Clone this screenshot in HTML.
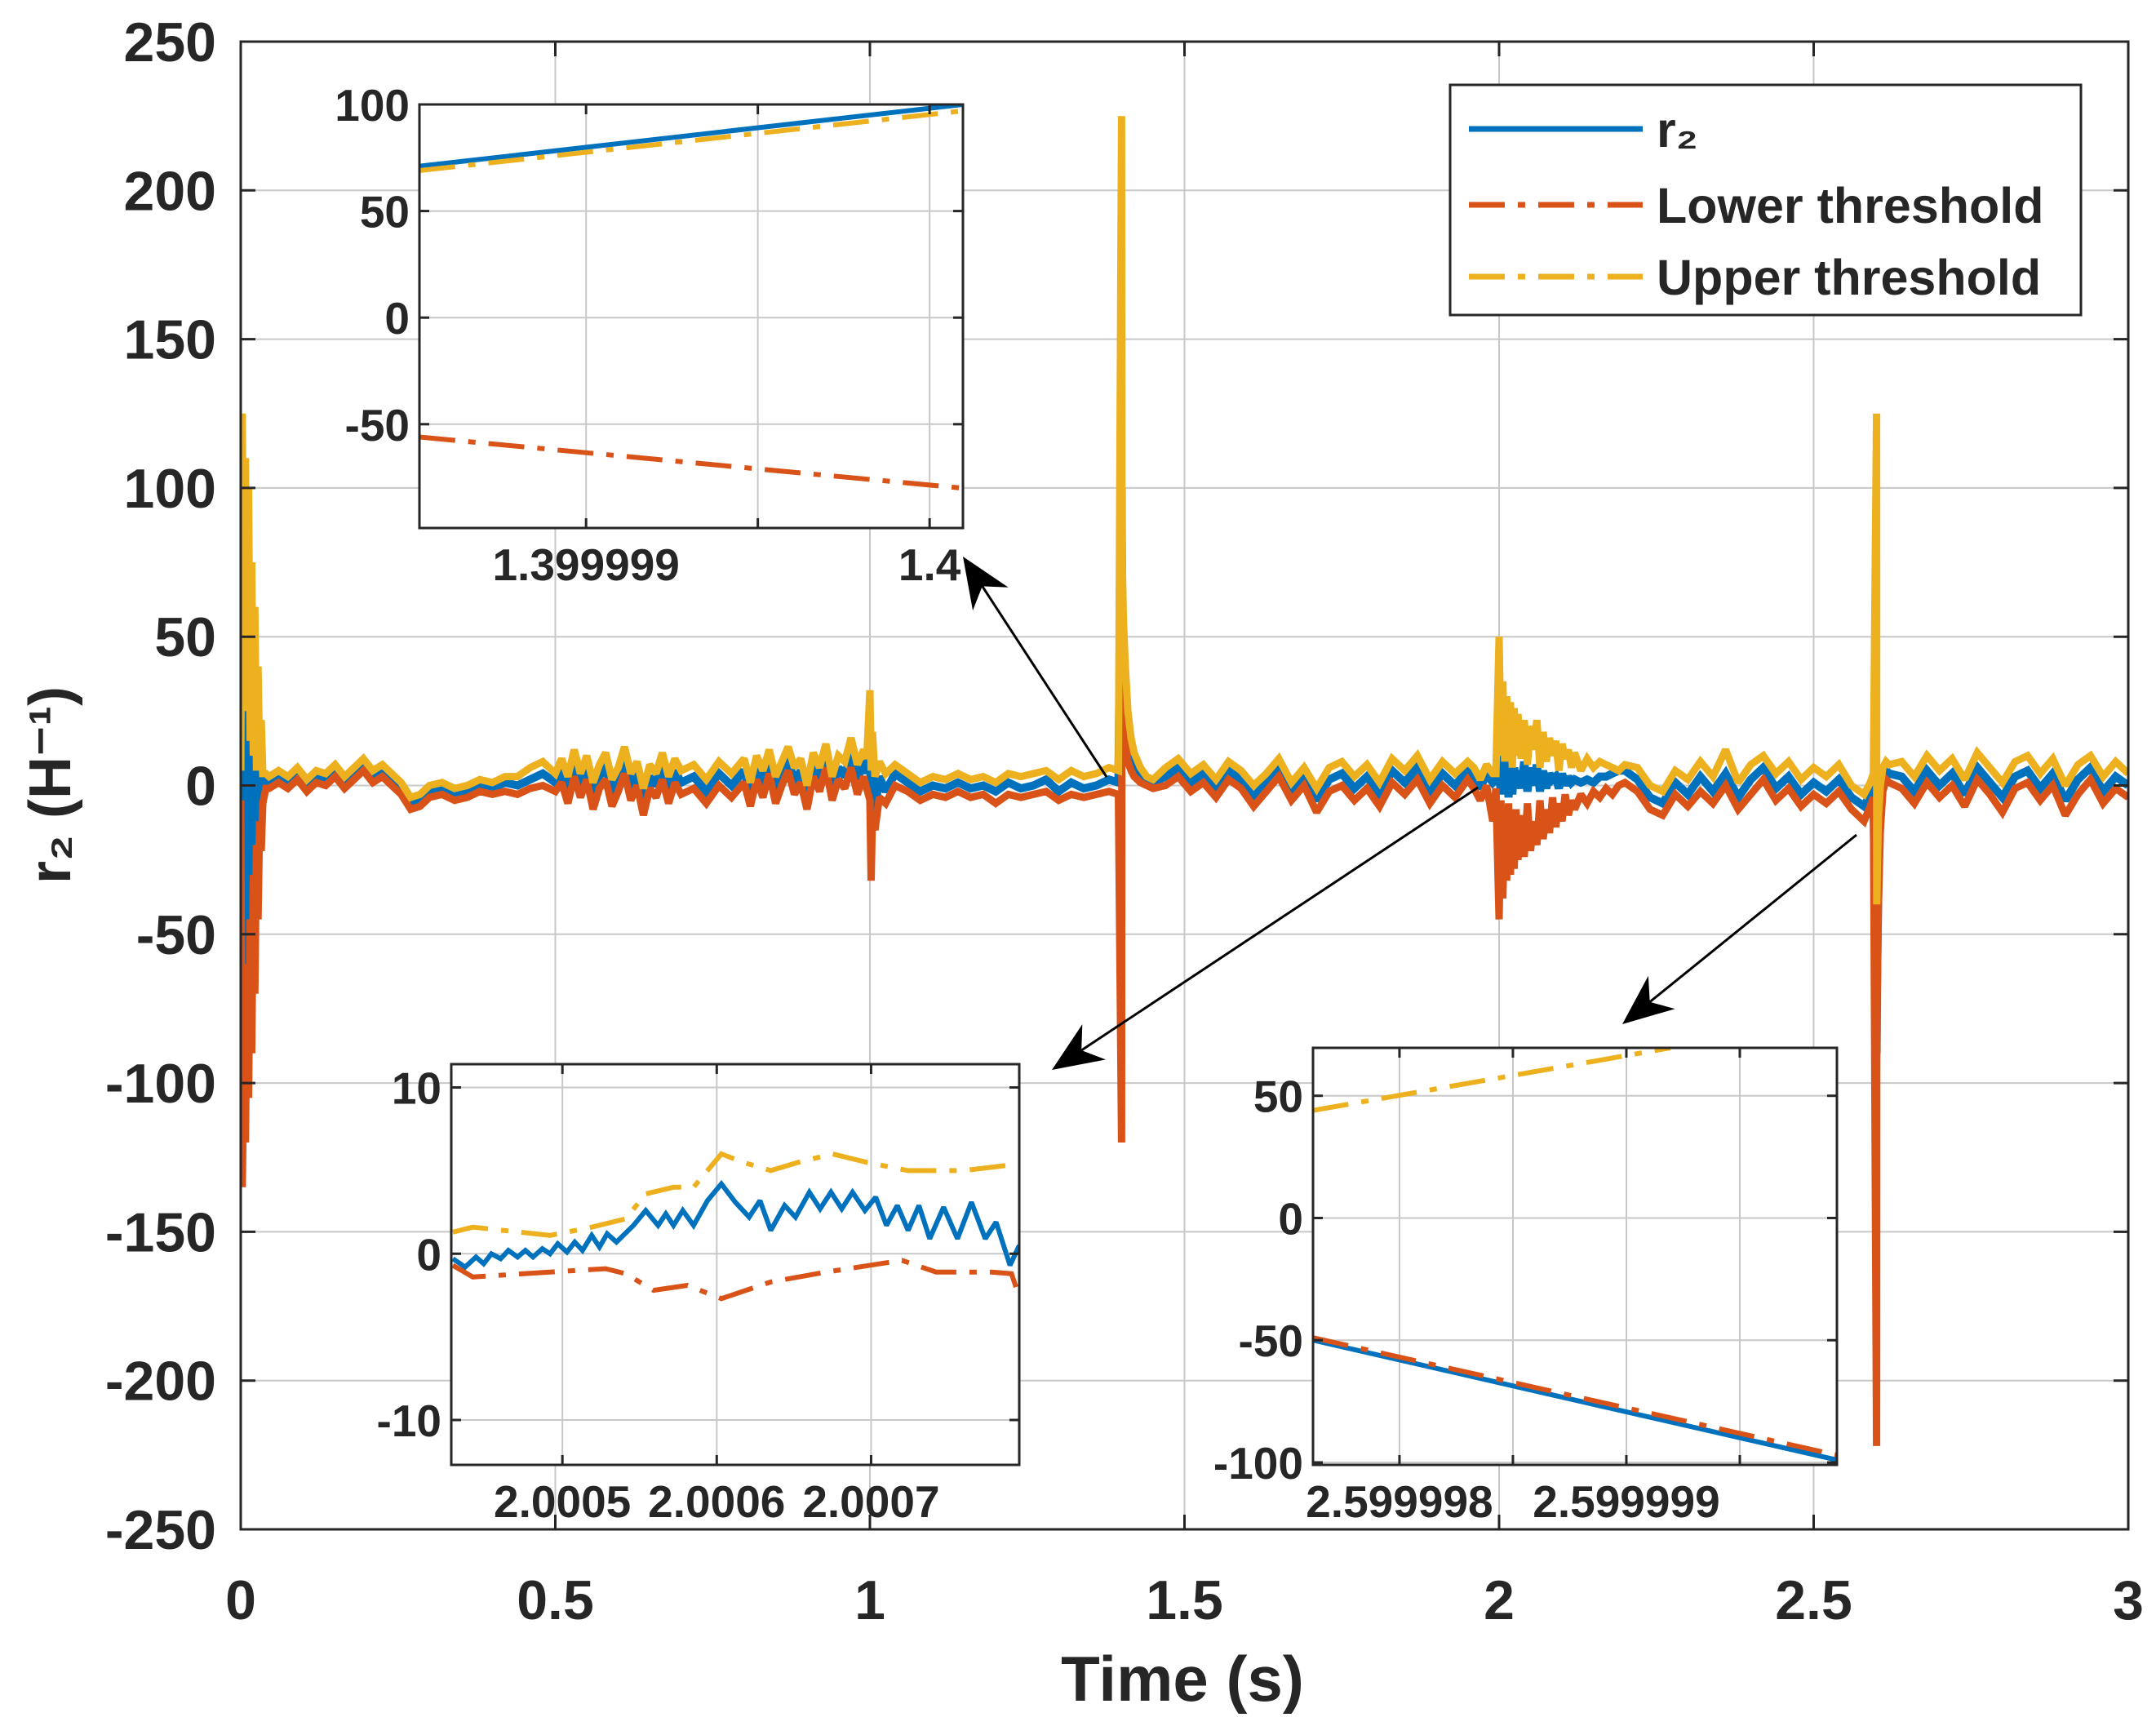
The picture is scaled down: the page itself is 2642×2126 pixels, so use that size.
<!DOCTYPE html>
<html><head><meta charset="utf-8"><style>
html,body{margin:0;padding:0;background:#fff}
svg{display:block}
text{font-family:"Liberation Sans",Arial,sans-serif;font-weight:bold;fill:#262626}
</style></head><body>
<svg id="chart" width="2642" height="2126" viewBox="0 0 2642 2126" xmlns="http://www.w3.org/2000/svg"></svg>
<script>
// ---------- main series data ----------
const times = [
0,0.0025,0.005,0.0075,0.01,0.0125,0.015,0.0175,0.02,0.0225,0.025,0.0275,0.03,0.0325,0.035,0.04,0.045,
0.06,0.075,0.09,0.105,0.12,0.135,0.15,0.165,0.18,0.195,0.21,0.225,0.24,0.255,0.27,0.285,0.3,
0.32,0.34,0.36,0.38,0.4,0.42,0.44,0.46,0.48,0.5,
0.51,0.52,0.53,0.54,0.55,0.56,0.57,0.58,0.59,0.6,0.61,0.62,0.63,0.64,0.65,0.66,0.67,0.68,0.69,0.7,
0.72,0.74,0.76,0.78,0.8,
0.81,0.82,0.83,0.84,0.85,0.86,0.87,0.88,0.89,0.9,0.91,0.92,0.93,0.94,0.95,0.96,0.97,0.98,0.99,0.995,
1.0,1.002,1.004,1.008,1.015,1.025,1.04,1.06,1.08,1.1,1.12,1.14,1.16,1.18,1.2,1.22,1.24,1.26,1.28,1.3,1.32,1.34,1.36,1.38,1.395,
1.4,1.4005,1.401,1.403,1.406,1.41,1.415,1.42,1.43,1.44,1.45,
1.47,1.49,1.51,1.53,1.55,1.57,1.59,1.61,1.63,1.65,1.67,1.69,1.71,1.73,1.75,1.77,1.79,1.81,1.83,1.85,1.87,1.89,1.91,1.93,1.95,1.96,1.97,1.98,1.99,1.995,
2.0,2.003,2.006,2.009,2.012,2.015,2.018,2.021,2.024,2.027,2.03,
2.035,2.04,2.045,2.05,2.055,2.06,2.065,2.07,2.075,2.08,2.085,2.09,2.095,2.1,2.105,2.11,2.115,2.12,
2.13,2.14,2.15,2.16,2.17,2.18,2.19,2.2,
2.22,2.24,2.26,2.28,2.3,2.32,2.34,2.36,2.38,2.4,2.42,2.44,2.46,2.48,2.5,2.52,2.54,2.56,2.58,2.59,2.595,
2.6,2.6003,2.601,2.603,2.606,2.61,2.615,2.62,
2.64,2.66,2.68,2.7,2.72,2.74,2.76,2.78,2.8,2.82,2.84,2.86,2.88,2.9,2.92,2.94,2.96,2.98,3.0];
const r2Values = [
0,95,-70,60,-45,50,-35,40,-25,30,-15,15,-8,6,-3,2,1,
3,1,4,0,3,2,5,1,4,7,3,5,2,-1,-6,-5,-2,
-1,-3,-2,0,-1,1,0,2,4,1,
5,-2,8,0,6,-4,3,7,-3,2,9,-1,4,-6,3,0,7,-2,5,1,
3,-2,4,0,5,
-3,6,0,8,-2,4,9,1,5,-4,7,2,10,-1,6,3,11,2,8,4,
20,-15,10,-8,3,-2,4,1,-2,0,-1,1,-1,0,-2,1,-1,0,2,-2,1,-1,0,2,1,
100,75,60,45,30,20,12,8,4,2,1,
3,6,1,4,-1,5,2,-4,1,6,-2,3,-5,2,4,-1,3,-3,5,1,6,-2,4,0,5,3,-1,4,1,2,
5,-3,12,-2,8,-4,10,-3,6,1,5,
-1,8,-2,6,0,7,-2,5,-1,4,2,3,-1,4,0,3,1,2,
1,2,1,3,3,4,5,5,
2,-4,-6,1,-3,3,-2,4,-4,2,6,-1,3,-3,1,-2,2,-4,-7,-3,0,
-90,-80,-60,-30,-10,2,5,4,
3,-2,5,0,4,-3,6,1,-4,3,5,-1,4,-5,2,6,-2,3,0];
const lowerValues = [
-5,-135,-90,-120,-60,-105,-45,-90,-30,-70,-20,-45,-12,-22,-6,-1,-1,
1,-1,2,-2,1,0,3,-1,2,5,1,3,0,-3,-8,-7,-4,
-3,-5,-4,-2,-3,-2,-3,-1,0,-2,
1,-6,3,-4,2,-8,-1,2,-7,-2,4,-5,0,-10,-1,-4,2,-6,1,-3,
-1,-6,0,-4,1,
-7,2,-4,4,-6,0,5,-3,1,-8,3,-2,6,-5,2,-1,6,-3,3,-1,
-5,-32,-10,-15,-4,-6,0,-2,-5,-3,-4,-2,-4,-3,-6,-3,-4,-3,-2,-5,-3,-4,-3,-2,-3,
-120,40,35,25,15,8,5,3,1,0,-1,
0,3,-2,1,-4,2,-1,-7,-2,3,-5,0,-9,-2,0,-5,-1,-7,1,-3,2,-6,0,-4,2,-1,-5,0,-12,-1,
-45,-5,-38,-8,-32,-6,-30,-10,-28,-8,-25,
-10,-24,-6,-22,-12,-20,-5,-18,-8,-16,-4,-14,-6,-12,-3,-10,-5,-8,
-3,-6,-2,-4,-1,-3,0,1,
-2,-8,-10,-3,-7,-2,-6,0,-8,-3,2,-5,-1,-7,-3,-6,-2,-8,-12,-7,-4,
-222,-95,-70,-40,-15,-2,2,1,
-1,-6,1,-4,0,-7,2,-3,-9,-1,1,-5,0,-10,-3,2,-6,-1,-4];
const upperValues = [
5,125,25,110,30,100,15,75,10,60,5,40,8,22,4,4,3,
5,3,6,2,5,4,7,3,6,9,5,7,4,1,-4,-3,0,
1,-1,0,2,1,3,3,6,8,4,
9,3,12,4,10,1,7,11,2,6,13,4,8,-1,7,4,11,3,9,5,
7,2,8,4,9,
1,10,5,12,3,8,13,6,9,0,11,6,14,3,10,8,16,7,12,9,
32,5,18,3,8,4,7,4,1,3,2,4,2,3,1,4,3,4,5,2,5,3,4,6,5,
225,95,75,55,40,25,16,11,6,3,2,
6,9,4,7,2,8,5,0,4,9,1,6,-1,6,8,3,7,1,9,5,10,2,8,4,8,6,2,7,4,4,
50,10,35,8,30,12,28,6,26,10,24,
9,22,7,20,12,22,6,18,8,16,10,15,5,14,9,12,6,11,
5,9,6,8,7,6,5,7,
6,0,-2,5,2,8,3,12,1,7,10,4,8,2,6,3,7,0,-3,1,4,
125,-40,-30,-10,0,6,8,7,
8,3,10,5,9,2,11,6,1,8,10,4,9,0,7,10,3,8,4];
const xTicks = [0,0.5,1,1.5,2,2.5,3];
const xTickLabels = ["0","0.5","1","1.5","2","2.5","3"];
const yTicks = [250,200,150,100,50,0,-50,-100,-150,-200,-250];
const yTickLabels = ["250","200","150","100","50","0","-50","-100","-150","-200","-250"];

// inset 1 (time offset in 1e-7 s from 1.399999)
const in1Time = [-4.85, 10.97];
const in1R2 = [71, 100];
const in1Lower = [-56, -80];
const in1Upper = [69, 97];
const in1XTicks = [0, 10];
const in1XTickLabels = ["1.399999", "1.4"];
const in1YTicks = [100, 50, 0, -50];
const in1YTickLabels = ["100", "50", "0", "-50"];

// inset 2 (time offset in 1e-5 s from 2.0004)
const in2R2Time = [2.9,3.7,4.4,4.9,5.4,6.0,6.5,7.1,7.6,8.1,8.7,9.2,9.7,10.3,10.8,11.3,11.9,12.4,12.9,13.5,14.6,15.4,16.2,16.7,17.2,17.8,18.5,19.4,20.3,21.2,22.1,22.8,23.5,24.4,25.1,26.0,26.7,27.4,28.1,28.8,29.6,30.3,31.0,31.7,32.4,33.1,33.8,34.7,35.6,36.5,37.4,38.1,39.0,39.6];
const in2R2 = [-0.3,-0.8,-0.2,-0.6,0,-0.3,0.2,-0.2,0.2,-0.2,0.3,0,0.6,0.1,0.7,0.2,1.1,0.4,1.2,0.7,1.7,2.6,1.7,2.4,1.7,2.6,1.7,3.2,4.2,3.1,2.2,3.2,1.4,2.9,2.2,3.7,2.7,3.7,2.7,3.7,2.6,3.4,1.7,2.9,1.4,2.9,0.9,2.8,0.9,3.1,0.9,1.9,-0.7,0.5];
const in2UpperTime = [2.9,4.2,9.2,11.9,14.1,15.4,17.2,18.5,20.3,21.7,23.5,25.3,27.5,29.7,32.4,36,39.6];
const in2Upper = [1.3,1.6,1.1,1.6,2.1,3.6,4.0,4.0,6.0,5.5,5.0,5.5,6.0,5.5,5.0,5.0,5.4];
const in2LowerTime = [2.9,4.2,9.2,12.8,14.1,15.9,18.1,20.3,23.5,27.1,32,34.2,37.8,39.1,39.6];
const in2Lower = [-0.7,-1.4,-1.1,-0.9,-1.2,-2.2,-1.9,-2.7,-1.7,-1.1,-0.4,-1.1,-1.1,-1.2,-2.6];
const in2XTicks = [10, 20, 30];
const in2XTickLabels = ["2.0005", "2.0006", "2.0007"];
const in2YTicks = [10, 0, -10];
const in2YTickLabels = ["10", "0", "-10"];

// inset 3 (time offset in 1e-7 s from 2.599997)
const in3Time = [6.19, 29.28];
const in3UpperTime = [6.19, 21.94];
const in3Upper = [44, 69.6];
const in3R2 = [-50, -99];
const in3Lower = [-49, -97];
const in3XTicks = [10, 20];
const in3XTickLabels = ["2.599998", "2.599999"];
const in3YTicks = [50, 0, -50, -100];
const in3YTickLabels = ["50", "0", "-50", "-100"];

const BLUE = "#0072BD", ORANGE = "#D95319", YELLOW = "#EDB120";
const DASH = "44,16,9,16";
const NS = "http://www.w3.org/2000/svg";
const svg = document.getElementById("chart");
function el(tag, attrs, parent, txt) {
  const e = document.createElementNS(NS, tag);
  for (const k in attrs) e.setAttribute(k, attrs[k]);
  if (txt !== undefined) e.textContent = txt;
  (parent || svg).appendChild(e);
  return e;
}
// ---------- main axes ----------
const L = 295, R = 2608, T = 51, B = 1874;
const xs = t => L + t / 3 * (R - L);
const ys = v => T + (250 - v) / 500 * (B - T);

const grid = el("g", {stroke: "#c8c8c8", "stroke-width": 2});


xTicks.forEach(t => el("line", {x1: xs(t), x2: xs(t), y1: T, y2: B}, grid));
yTicks.forEach(v => el("line", {x1: L, x2: R, y1: ys(v), y2: ys(v)}, grid));

const defs = el("defs", {});
const cp = el("clipPath", {id: "mainclip"}, defs);
el("rect", {x: L, y: T, width: R - L, height: B - T}, cp);

function series(tArr, vArr, xf, yf, color, w, name, dash, parent, clip) {
  const n = Math.min(tArr.length, vArr.length);
  const pts = [];
  for (let i = 0; i < n; i++) pts.push(xf(tArr[i]).toFixed(1) + "," + yf(vArr[i]).toFixed(1));
  const a = {points: pts.join(" "), fill: "none", stroke: color, "stroke-width": w, "stroke-linejoin": "miter", "stroke-miterlimit": 2};
  if (dash) a["stroke-dasharray"] = dash;
  if (clip) a["clip-path"] = clip;
  const p = el("polyline", a, parent);
  
  
  return p;
}
series(times, r2Values, xs, ys, BLUE, 10, "r2-line", null, svg, "url(#mainclip)");
series(times, lowerValues, xs, ys, ORANGE, 9, "lower-threshold-line", null, svg, "url(#mainclip)");
series(times, upperValues, xs, ys, YELLOW, 9, "upper-threshold-line", null, svg, "url(#mainclip)");

const frame = el("rect", {x: L, y: T, width: R - L, height: B - T, fill: "none", stroke: "#262626", "stroke-width": 3});



xTicks.forEach((t, i) => {
  el("line", {x1: xs(t), x2: xs(t), y1: B, y2: B - 18, stroke: "#262626", "stroke-width": 3});
  el("line", {x1: xs(t), x2: xs(t), y1: T, y2: T + 18, stroke: "#262626", "stroke-width": 3});
  const tx = el("text", {x: xs(t), y: 1984, "font-size": 68, "text-anchor": "middle"}, svg, xTickLabels[i]);
  
  
});
yTicks.forEach((v, i) => {
  el("line", {x1: L, x2: L + 18, y1: ys(v), y2: ys(v), stroke: "#262626", "stroke-width": 3});
  el("line", {x1: R, x2: R - 18, y1: ys(v), y2: ys(v), stroke: "#262626", "stroke-width": 3});
  const ty = el("text", {x: 265, y: ys(v) + 24, "font-size": 68, "text-anchor": "end"}, svg, yTickLabels[i]);
  
  
});
const xt = el("text", {x: 1449, y: 2084, "font-size": 78, "text-anchor": "middle"}, svg, "Time (s)");


const yt = el("text", {x: 0, y: 0, "font-size": 72, "text-anchor": "middle", transform: "translate(86,962) rotate(-90)"}, svg, "r₂ (H⁻¹)");



// ---------- arrows ----------
function arrow(x1, y1, x2, y2, name) {
  const g = el("g", {});
  
  
  const ang = Math.atan2(y2 - y1, x2 - x1);
  const len = 62, wid = 26;
  const bx = x2 - len * Math.cos(ang), by = y2 - len * Math.sin(ang);
  const mx = x2 - len * 0.7 * Math.cos(ang), my = y2 - len * 0.7 * Math.sin(ang);
  el("line", {x1: x1, y1: y1, x2: mx, y2: my, stroke: "#000", "stroke-width": 3}, g);
  const px = -Math.sin(ang), py = Math.cos(ang);
  el("polygon", {points: `${x2},${y2} ${bx + px * wid},${by + py * wid} ${mx},${my} ${bx - px * wid},${by - py * wid}`, fill: "#000"}, g);
}
arrow(1356, 952, 1180, 682, "zoom-arrow-1");
arrow(1811, 965, 1289, 1311, "zoom-arrow-2");
arrow(2275, 1023, 1988, 1255, "zoom-arrow-3");

// ---------- insets ----------
function inset(cfg) {
  const g = el("g", {});
  
  
  const {l, r, t, b, x0, x1, v0, v1} = cfg;
  const xf = u => l + (u - x0) / (x1 - x0) * (r - l);
  const yf = v => t + (v1 - v) / (v1 - v0) * (b - t);
  el("rect", {x: l, y: t, width: r - l, height: b - t, fill: "#fff"}, g);
  const id = cfg.name + "-clip";
  const c = el("clipPath", {id: id}, defs);
  el("rect", {x: l, y: t, width: r - l, height: b - t}, c);
  cfg.gridX.forEach(u => el("line", {x1: xf(u), x2: xf(u), y1: t, y2: b, stroke: "#c8c8c8", "stroke-width": 2}, g));
  cfg.yTicks.forEach(v => el("line", {x1: l, x2: r, y1: yf(v), y2: yf(v), stroke: "#c8c8c8", "stroke-width": 2}, g));
  cfg.lines.forEach(s => series(s[0], s[1], xf, yf, s[2], 6, s[3], s[4], g, "url(#" + id + ")"));
  el("rect", {x: l, y: t, width: r - l, height: b - t, fill: "none", stroke: "#262626", "stroke-width": 3}, g);
  cfg.gridX.forEach(u => {
    el("line", {x1: xf(u), x2: xf(u), y1: b, y2: b - 12, stroke: "#262626", "stroke-width": 3}, g);
    el("line", {x1: xf(u), x2: xf(u), y1: t, y2: t + 12, stroke: "#262626", "stroke-width": 3}, g);
  });
  cfg.yTicks.forEach((v, i) => {
    el("line", {x1: l, x2: l + 12, y1: yf(v), y2: yf(v), stroke: "#262626", "stroke-width": 3}, g);
    el("line", {x1: r, x2: r - 12, y1: yf(v), y2: yf(v), stroke: "#262626", "stroke-width": 3}, g);
    const tl = el("text", {x: l - 12, y: yf(v) + 20, "font-size": 55, "text-anchor": "end"}, g, cfg.yLabels[i]);
    
    
  });
  cfg.xTicks.forEach((u, i) => {
    const tl = el("text", {x: xf(u), y: b + 64, "font-size": 55, "text-anchor": "middle"}, g, cfg.xLabels[i]);
    
    
  });
}
inset({name: "inset-1", l: 514, r: 1180, t: 128, b: 647, x0: -4.85, x1: 10.97, v0: -98.7, v1: 100,
  gridX: [0, 5, 10], xTicks: in1XTicks, xLabels: in1XTickLabels, yTicks: in1YTicks, yLabels: in1YTickLabels,
  lines: [[in1Time, in1R2, BLUE, "inset1-r2-line"], [in1Time, in1Lower, ORANGE, "inset1-lower-line", DASH], [in1Time, in1Upper, YELLOW, "inset1-upper-line", DASH]]});
inset({name: "inset-2", l: 553, r: 1249, t: 1304, b: 1795, x0: 2.8, x1: 39.6, v0: -12.7, v1: 11.4,
  gridX: [10, 20, 30], xTicks: in2XTicks, xLabels: in2XTickLabels, yTicks: in2YTicks, yLabels: in2YTickLabels,
  lines: [[in2R2Time, in2R2, BLUE, "inset2-r2-line"], [in2LowerTime, in2Lower, ORANGE, "inset2-lower-line", DASH], [in2UpperTime, in2Upper, YELLOW, "inset2-upper-line", DASH]]});
inset({name: "inset-3", l: 1609, r: 2251, t: 1284, b: 1795, x0: 6.19, x1: 29.28, v0: -101, v1: 69.6,
  gridX: [10, 15, 20, 25], xTicks: in3XTicks, xLabels: in3XTickLabels, yTicks: in3YTicks, yLabels: in3YTickLabels,
  lines: [[in3UpperTime, in3Upper, YELLOW, "inset3-upper-line", DASH], [in3Time, in3R2, BLUE, "inset3-r2-line"], [in3Time, in3Lower, ORANGE, "inset3-lower-line", DASH]]});

// ---------- legend ----------
const lg = el("g", {});


el("rect", {x: 1777, y: 104, width: 773, height: 282, fill: "#fff", stroke: "#262626", "stroke-width": 3}, lg);
const legendItems = [["r₂", BLUE, null, 158, "legend-entry-r2"], ["Lower threshold", ORANGE, DASH, 251, "legend-entry-lower"], ["Upper threshold", YELLOW, DASH, 339, "legend-entry-upper"]];
legendItems.forEach(it => {
  const g = el("g", {}, lg);
  
  
  const a = {x1: 1800, x2: 2013, y1: it[3], y2: it[3], stroke: it[1], "stroke-width": 7};
  if (it[2]) a["stroke-dasharray"] = it[2];
  el("line", a, g);
  el("text", {x: 2030, y: it[3] + 22, "font-size": 61}, g, it[0]);
});
</script>
</body></html>
